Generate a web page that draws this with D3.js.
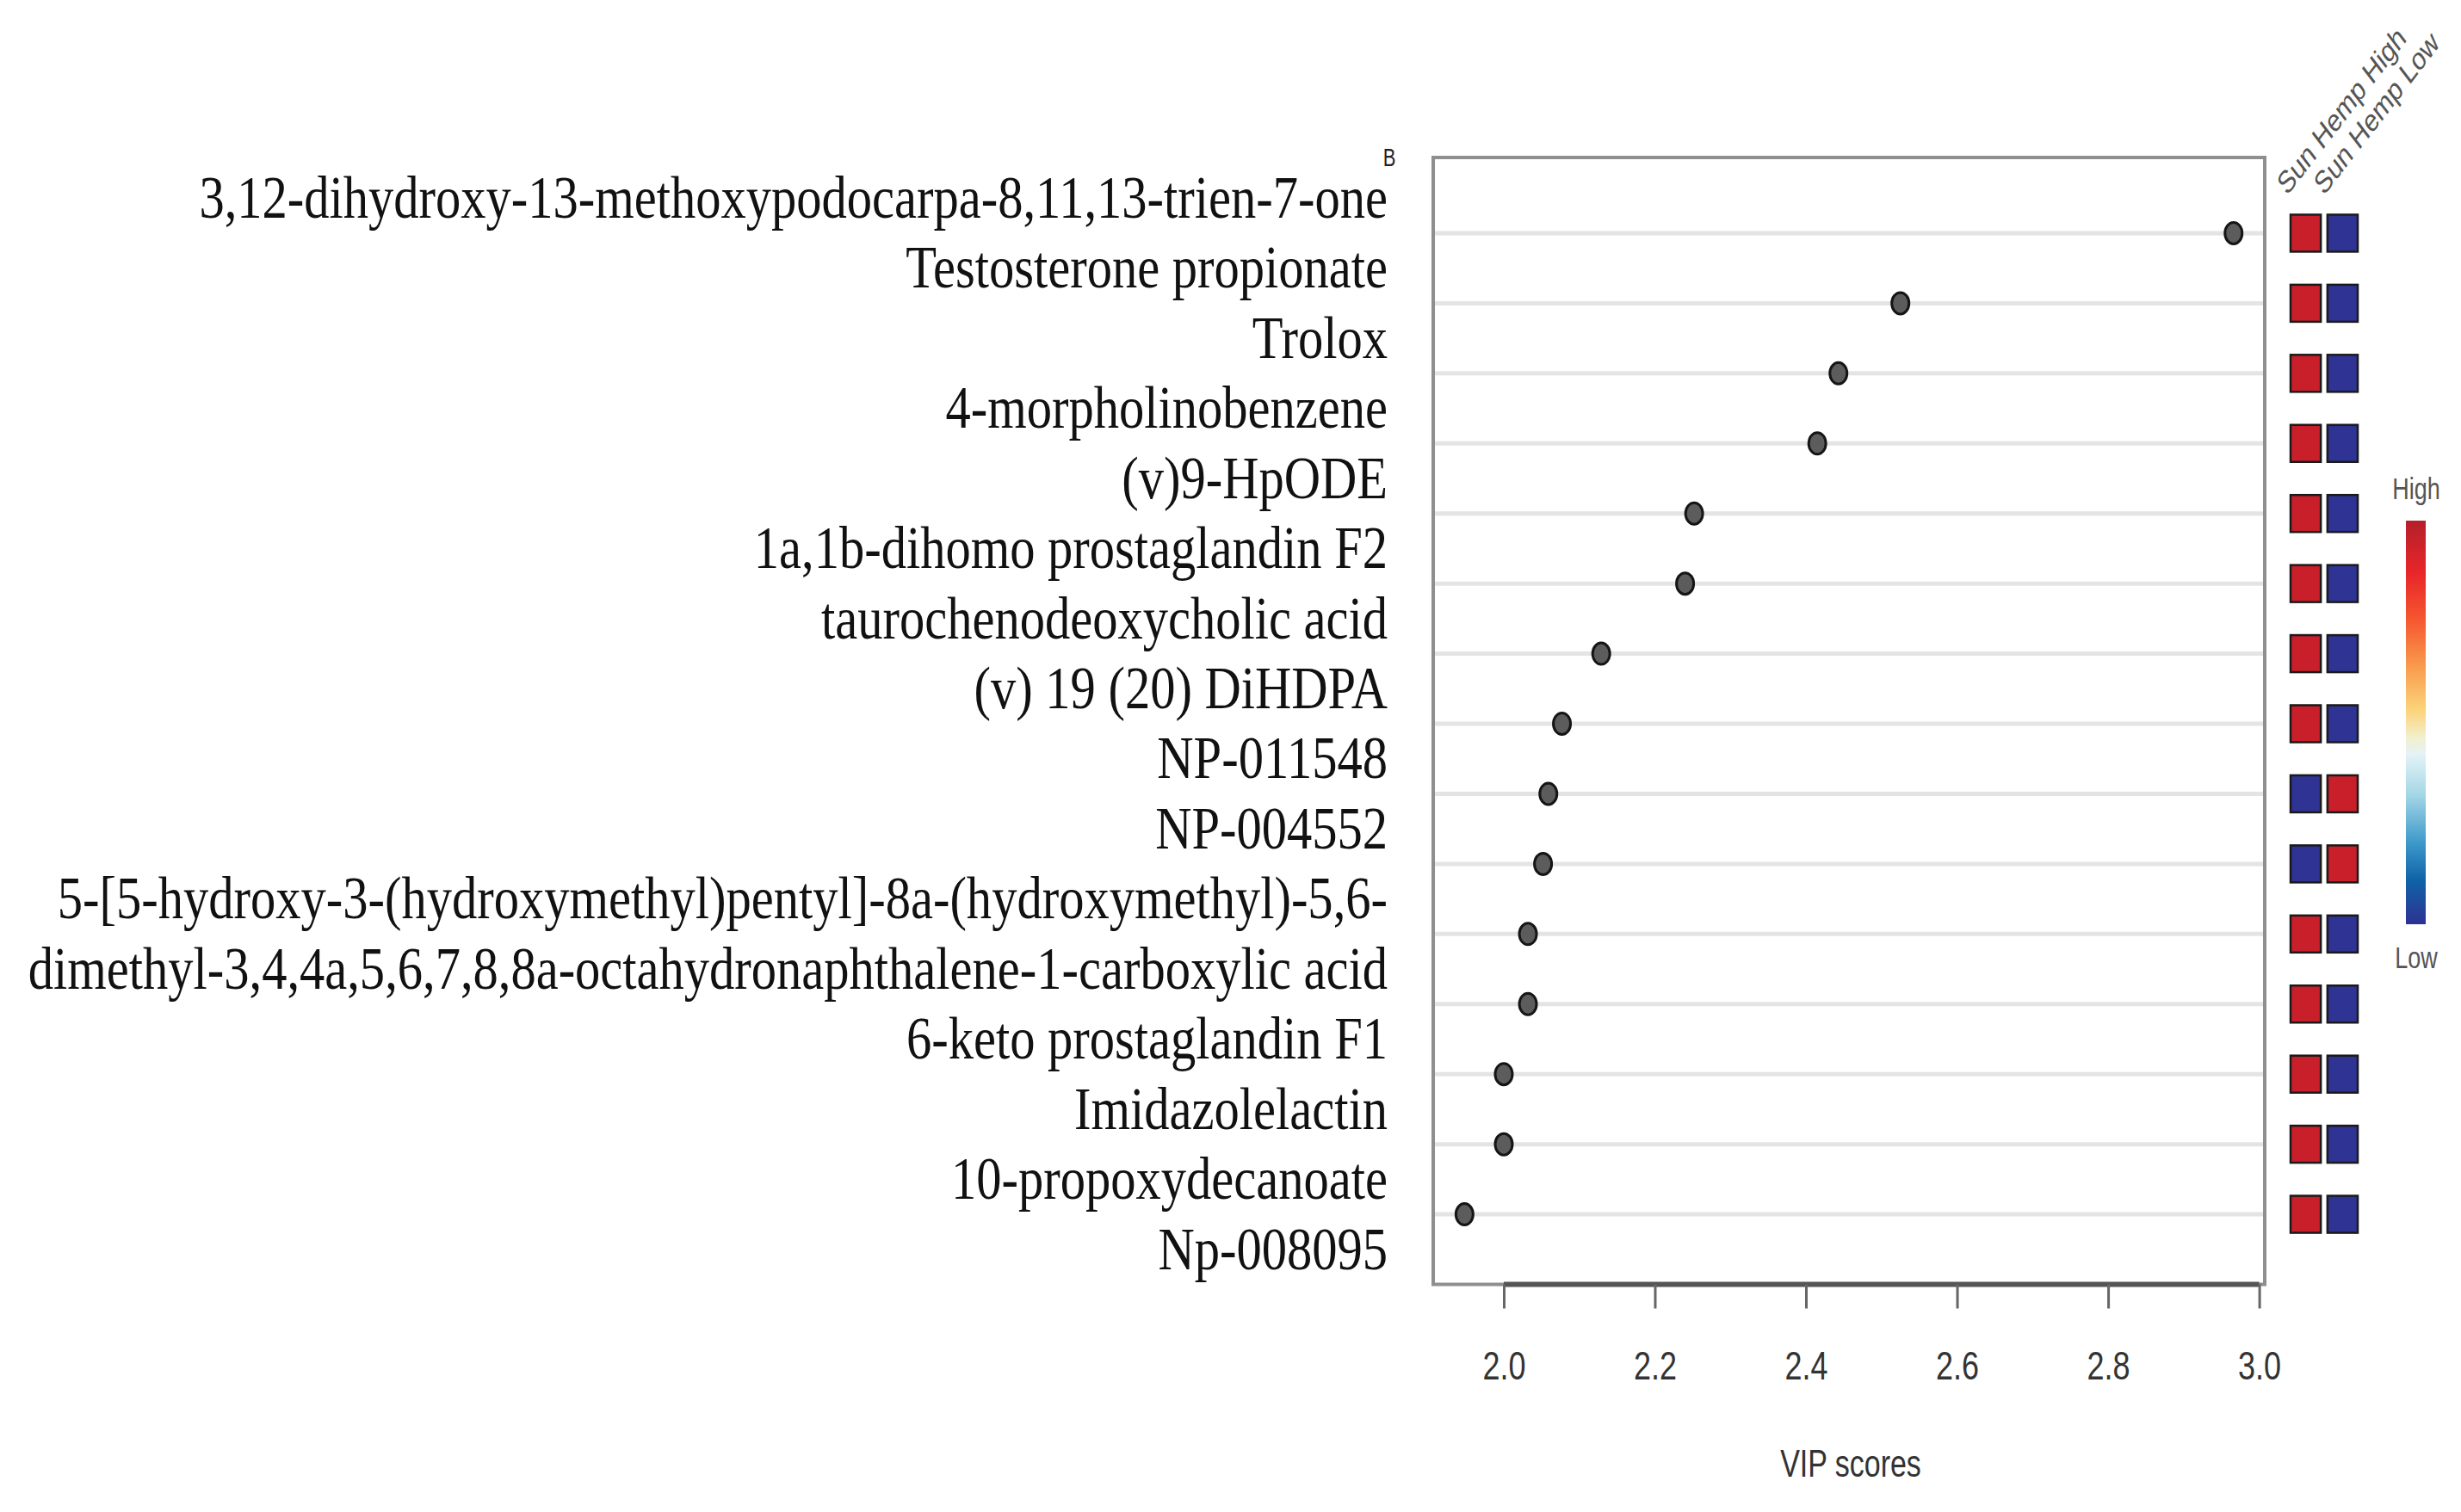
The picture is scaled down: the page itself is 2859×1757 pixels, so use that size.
<!DOCTYPE html>
<html>
<head>
<meta charset="utf-8">
<script src="https://cdn.jsdelivr.net/npm/d3@7"></script>
<style>
  html, body { margin: 0; padding: 0; background: #ffffff; }
  svg { display: block; }
</style>
</head>
<body>
<svg id="chart" width="2859" height="1757"></svg>
<script>
// ---------- data ----------
const compounds = [
  "3,12-dihydroxy-13-methoxypodocarpa-8,11,13-trien-7-one",
  "Testosterone propionate",
  "Trolox",
  "4-morpholinobenzene",
  "(v)9-HpODE",
  "1a,1b-dihomo prostaglandin F2",
  "taurochenodeoxycholic acid",
  "(v) 19 (20) DiHDPA",
  "NP-011548",
  "NP-004552",
  "5-[5-hydroxy-3-(hydroxymethyl)pentyl]-8a-(hydroxymethyl)-5,6-dimethyl-3,4,4a,5,6,7,8,8a-octahydronaphthalene-1-carboxylic acid",
  "6-keto prostaglandin F1",
  "Imidazolelactin",
  "10-propoxydecanoate",
  "Np-008095"
];
// label lines exactly as printed (the long name wraps on two lines)
const labelLines = [
  "3,12-dihydroxy-13-methoxypodocarpa-8,11,13-trien-7-one",
  "Testosterone propionate",
  "Trolox",
  "4-morpholinobenzene",
  "(v)9-HpODE",
  "1a,1b-dihomo prostaglandin F2",
  "taurochenodeoxycholic acid",
  "(v) 19 (20) DiHDPA",
  "NP-011548",
  "NP-004552",
  "5-[5-hydroxy-3-(hydroxymethyl)pentyl]-8a-(hydroxymethyl)-5,6-",
  "dimethyl-3,4,4a,5,6,7,8,8a-octahydronaphthalene-1-carboxylic acid",
  "6-keto prostaglandin F1",
  "Imidazolelactin",
  "10-propoxydecanoate",
  "Np-008095"
];
const vipScores = [2.966, 2.525, 2.443, 2.415, 2.252, 2.240, 2.129, 2.077, 2.059, 2.052, 2.032, 2.032, 2.000, 2.000, 1.948];
const groups = ["Sun Hemp High", "Sun Hemp Low"];
// relative level per group: 1 = high, 0 = low
const levelHigh = [1, 1, 1, 1, 1, 1, 1, 1, 0, 0, 1, 1, 1, 1, 1];
const levelLow  = [0, 0, 0, 0, 0, 0, 0, 0, 1, 1, 0, 0, 0, 0, 0];
const xTicks = [2.0, 2.2, 2.4, 2.6, 2.8, 3.0];
const xTitle = "VIP scores";
const panelTag = "B";
const legendLabels = ["High", "Low"];

// ---------- layout ----------
const svg = d3.select("#chart");
const SY = 1.3; // vertical stretch of the original picture

const x = d3.scaleLinear().domain([1.9066, 3.0073]).range([1665, 2631]);
const y = d3.scaleLinear().domain([-1.08, 15]).range([183, 1492.5]);
const plotL = x.range()[0], plotR = x.range()[1];
const plotT = y.range()[0], plotB = y.range()[1];

// gridlines
svg.append("g").selectAll("line")
  .data(vipScores)
  .join("line")
  .attr("x1", plotL + 2).attr("x2", plotR - 2)
  .attr("y1", (d, i) => y(i)).attr("y2", (d, i) => y(i))
  .attr("stroke", "#e4e4e4").attr("stroke-width", 5);

// plot box
svg.append("rect")
  .attr("x", plotL).attr("y", plotT)
  .attr("width", plotR - plotL).attr("height", plotB - plotT)
  .attr("fill", "none").attr("stroke", "#8f8f8f").attr("stroke-width", 4);

// x axis
const xAxis = d3.axisBottom(x).tickValues(xTicks).tickSize(28).tickFormat(d3.format(".1f")).tickPadding(0);
const gx = svg.append("g").attr("transform", `translate(0,${plotB})`).call(xAxis);
gx.select(".domain").attr("d", `M${x(xTicks[0])},0H${x(xTicks[xTicks.length - 1])}`)
  .attr("stroke", "#555").attr("stroke-width", 6);
gx.selectAll(".tick line").attr("stroke", "#666").attr("stroke-width", 3);
gx.selectAll(".tick text")
  .attr("y", 0).attr("dy", 0)
  .attr("transform", `translate(0,110) scale(1,${SY})`)
  .attr("font-family", "Liberation Sans, Arial, sans-serif")
  .attr("font-size", 36).attr("fill", "#333");

// x title
svg.append("text")
  .attr("transform", `translate(2150,1716) scale(1,${SY})`)
  .attr("text-anchor", "middle")
  .attr("font-family", "Liberation Sans, Arial, sans-serif")
  .attr("font-size", 34).attr("fill", "#333")
  .text(xTitle);

// points
svg.append("g").selectAll("ellipse")
  .data(vipScores)
  .join("ellipse")
  .attr("cx", d => x(d)).attr("cy", (d, i) => y(i))
  .attr("rx", 10).attr("ry", 12.5)
  .attr("fill", "#5c5c5c").attr("stroke", "#151515").attr("stroke-width", 3);

// row labels
const labels = svg.append("g").selectAll("text")
  .data(labelLines)
  .join("text")
  .attr("text-anchor", "end")
  .attr("font-family", "Liberation Serif, Times New Roman, serif")
  .attr("font-size", 53).attr("fill", "#111")
  .text(d => d);
const firstLen = labels.node().getComputedTextLength();
const sx = 1381 / firstLen;
labels.attr("transform", (d, j) => `translate(1612,${y(j) - 18}) scale(${sx},${SY})`);

// panel tag
svg.append("text")
  .attr("transform", `translate(1614,193) scale(1,${SY})`)
  .attr("text-anchor", "middle")
  .attr("font-family", "Liberation Sans, Arial, sans-serif")
  .attr("font-size", 22).attr("fill", "#222")
  .text(panelTag);

// heatmap
const colX = d3.scaleBand().domain(groups).range([2661, 2739]).paddingInner(0.18);
const heatColor = v => v === 1 ? "#c81f2a" : "#2e3394";
const cellH = 43;
const levels = [levelHigh, levelLow];
groups.forEach((g, gi) => {
  svg.append("g").selectAll("rect")
    .data(levels[gi])
    .join("rect")
    .attr("x", colX(g)).attr("width", colX.bandwidth())
    .attr("y", (d, i) => y(i) - cellH / 2).attr("height", cellH)
    .attr("fill", d => heatColor(d))
    .attr("stroke", "#1a1a1a").attr("stroke-width", 2.5);
  svg.append("text")
    .attr("transform", `translate(${colX(g) - 4},${228}) scale(1,${SY}) rotate(-45)`)
    .attr("font-family", "Liberation Sans, Arial, sans-serif")
    .attr("font-size", 28).attr("fill", "#555")
    .text(g);
});

// colour bar
const stops = [
  [0.00, "#b41f2b"], [0.13, "#e8262a"], [0.24, "#f5542f"], [0.36, "#f99a4c"],
  [0.47, "#fcd47a"], [0.54, "#f2f0d0"], [0.58, "#e3f3f6"], [0.68, "#a4d6e6"],
  [0.80, "#3c98c9"], [0.89, "#0f63a8"], [1.00, "#2e3192"]
];
const defs = svg.append("defs");
const grad = defs.append("linearGradient").attr("id", "cbar")
  .attr("x1", 0).attr("y1", 0).attr("x2", 0).attr("y2", 1);
grad.selectAll("stop").data(stops).join("stop")
  .attr("offset", d => d[0]).attr("stop-color", d => d[1]);
const cb = d3.scaleLinear().domain([1, 0]).range([605, 1074]);
svg.append("rect")
  .attr("x", 2795).attr("width", 23)
  .attr("y", cb(1)).attr("height", cb(0) - cb(1))
  .attr("fill", "url(#cbar)");
svg.append("text")
  .attr("transform", `translate(2807,${cb(1) - 25}) scale(1,${SY})`)
  .attr("text-anchor", "middle")
  .attr("font-family", "Liberation Sans, Arial, sans-serif")
  .attr("font-size", 27).attr("fill", "#555")
  .text(legendLabels[0]);
svg.append("text")
  .attr("transform", `translate(2807,${cb(0) + 51}) scale(1,${SY})`)
  .attr("text-anchor", "middle")
  .attr("font-family", "Liberation Sans, Arial, sans-serif")
  .attr("font-size", 27).attr("fill", "#555")
  .text(legendLabels[1]);
</script>
</body>
</html>
